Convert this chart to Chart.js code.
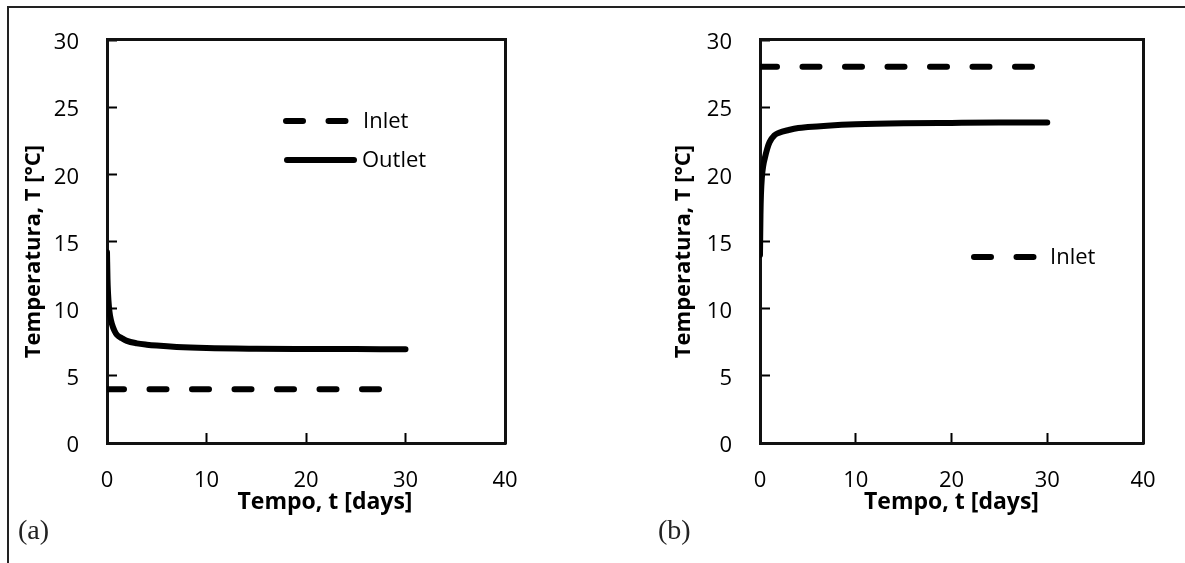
<!DOCTYPE html>
<html>
<head>
<meta charset="utf-8">
<script src="https://cdn.jsdelivr.net/npm/chart.js@4.4.1/dist/chart.umd.min.js"></script>
<style>
  html, body { margin: 0; padding: 0; background: #fff; width: 1185px; height: 563px; overflow: hidden; }
  #frame { position: absolute; left: 7px; top: 6px; right: 0; bottom: 0; border-left: 2px solid #222; border-top: 2px solid #222; }
  .wrap { position: absolute; top: 0; height: 563px; }
  #wa { left: 0; width: 590px; }
  #wb { left: 600px; width: 585px; }
  canvas { display: block; }
  .tag { position: absolute; top: 514px; font-family: "Liberation Serif", "Times New Roman", serif; font-size: 28px; line-height: 32px; color: #222; }
</style>
</head>
<body>
<div id="frame"></div>
<div class="wrap" id="wa"><canvas id="ca" width="590" height="563"></canvas></div>
<div class="wrap" id="wb"><canvas id="cb" width="585" height="563"></canvas></div>
<div class="tag" style="left:18px;">(a)</div>
<div class="tag" style="left:658px;">(b)</div>
<script>
// ---------- data ----------
const xTickValues = [0, 10, 20, 30, 40];
const yTickValues = [0, 5, 10, 15, 20, 25, 30];

const seriesNames = ['Inlet', 'Outlet'];

// Panel (a)
const timeInletA = [0, 28];
const tempInletA = [4, 4];
const timeOutletA = [0, 0.05, 0.1, 0.2, 0.3, 0.5, 0.75, 1, 1.5, 2, 3, 4, 5, 7, 10, 15, 20, 25, 30];
const tempOutletA = [14.2, 12.2, 11.2, 10.1, 9.5, 8.85, 8.35, 8.05, 7.8, 7.6, 7.42, 7.32, 7.25, 7.15, 7.07, 7.02, 7.0, 6.99, 6.98];

// Panel (b)
const timeInletB = [0, 29];
const tempInletB = [28, 28];
const timeOutletB = [0, 0.05, 0.1, 0.2, 0.35, 0.5, 0.75, 1, 1.5, 2, 3, 4, 5, 7, 10, 15, 20, 25, 30];
const tempOutletB = [14.0, 17.0, 18.5, 19.8, 20.7, 21.2, 21.9, 22.4, 22.9, 23.1, 23.3, 23.45, 23.52, 23.62, 23.72, 23.8, 23.83, 23.85, 23.85];

const xTitle = 'Tempo, t [days]';
const yTitle = 'Temperatura, T [°C]';

// ---------- helpers ----------
const pts = (xs, ys) => xs.map((x, i) => ({ x: x, y: ys[i] }));
const SANS = '"Open Sans", "Noto Sans", sans-serif';

const decorPlugin = {
  id: 'decor',
  afterDraw(chart, args, opts) {
    const ctx = chart.ctx;
    const xs = chart.scales.x, ys = chart.scales.y;
    const L = Math.round(xs.getPixelForValue(0)), R = Math.round(xs.getPixelForValue(40));
    const T = Math.round(ys.getPixelForValue(30)), B = Math.round(ys.getPixelForValue(0));
    ctx.save();
    ctx.fillStyle = opts.boxColor || '#000';
    // top and right edges of the plot frame
    ctx.fillRect(L - 1, T - 2, R - L + 3, 3);
    ctx.fillRect(R - 1, T - 2, 3, B - T + 3);
    ctx.restore();
    (opts.items || []).forEach(it => {
      const ds = chart.data.datasets[it.dataset];
      const x0 = L + it.x, y0 = T + it.y;
      ctx.save();
      ctx.strokeStyle = ds.borderColor;
      ctx.lineWidth = ds.borderWidth;
      ctx.lineCap = 'round';
      ctx.setLineDash(ds.borderDash || []);
      ctx.beginPath();
      ctx.moveTo(x0, y0);
      ctx.lineTo(x0 + it.len, y0);
      ctx.stroke();
      ctx.setLineDash([]);
      ctx.fillStyle = '#000';
      ctx.font = '22px ' + SANS;
      ctx.textAlign = 'left';
      ctx.textBaseline = 'middle';
      ctx.fillText(ds.label, x0 + it.len + it.gap, y0 + 1);
      ctx.restore();
    });
  }
};

function patchTitle(s, dx, dy) {
  if ((dx || dy) && !s._shiftPatched) {
    const orig = s.drawTitle;
    s.drawTitle = function () {
      this.ctx.save();
      this.ctx.translate(dx || 0, dy || 0);
      orig.apply(this, arguments);
      this.ctx.restore();
    };
    s._shiftPatched = true;
  }
}

function makeChart(canvasId, inletPts, outletPts, cfg) {
  const datasets = [
    { label: seriesNames[0], data: inletPts, borderColor: '#000', borderWidth: 6, borderDash: [17, 25.5],
      borderCapStyle: 'round', pointRadius: 0, fill: false, tension: 0 },
    { label: seriesNames[1], data: outletPts, borderColor: '#000', borderWidth: 6, borderCapStyle: 'round',
      borderJoinStyle: 'round', pointRadius: 0, fill: false, cubicInterpolationMode: 'monotone' }
  ];
  return new Chart(document.getElementById(canvasId), {
    type: 'line',
    data: { datasets },
    options: {
      responsive: false,
      animation: false,
      devicePixelRatio: 1,
      layout: { autoPadding: false, padding: { left: 0, top: 40, right: cfg.padRight, bottom: 0 } },
      plugins: { legend: { display: false }, tooltip: { enabled: false }, decor: { items: cfg.legend, boxColor: '#111' } },
      scales: {
        x: {
          type: 'linear', position: 'bottom', min: 0, max: 40,
          afterBuildTicks: s => { s.ticks = xTickValues.map(v => ({ value: v })); },
          ticks: { color: '#000', font: { family: SANS, size: 22 }, padding: 35, maxRotation: 0, autoSkip: false },
          grid: { drawOnChartArea: false, drawTicks: true, tickLength: -10, tickWidth: 2, tickColor: '#000' },
          border: { display: true, color: '#111', width: 3 },
          title: { display: true, text: xTitle, color: '#000', font: { family: SANS, size: 23, weight: 'bold' },
                   padding: { top: 0, bottom: 47 } },
          afterFit: s => {
            s.height = 120;
            s.paddingLeft = 0; s.paddingRight = 0;
            patchTitle(s, cfg.xTitleShift, 0);
          }
        },
        y: {
          type: 'linear', position: 'left', min: 0, max: 30,
          afterBuildTicks: s => { s.ticks = yTickValues.map(v => ({ value: v })); },
          ticks: { color: '#000', font: { family: SANS, size: 22 }, padding: 38, labelOffset: 3, autoSkip: false },
          grid: { drawOnChartArea: false, drawTicks: true, tickLength: -10, tickWidth: 2, tickColor: '#000' },
          border: { display: true, color: '#111', width: 3 },
          title: { display: true, text: yTitle, color: '#000', font: { family: SANS, size: 22, weight: 'bold' },
                   padding: { top: cfg.yTitlePad, bottom: 0 } },
          afterFit: s => {
            s.width = cfg.yWidth;
            s.paddingTop = 0; s.paddingBottom = 0;
            patchTitle(s, 0, cfg.yTitleShift);
          }
        }
      }
    },
    plugins: [decorPlugin]
  });
}

makeChart('ca', pts(timeInletA, tempInletA), pts(timeOutletA, tempOutletA), {
  padRight: 85, yWidth: 107, yTitlePad: 21, xTitleShift: 19, yTitleShift: 10,
  legend: [
    { dataset: 0, x: 179, y: 81, len: 63, gap: 14 },
    { dataset: 1, x: 180, y: 120, len: 67, gap: 8 }
  ]
});

makeChart('cb', pts(timeInletB, tempInletB), pts(timeOutletB, tempOutletB), {
  padRight: 42, yWidth: 160, yTitlePad: 71, xTitleShift: 0, yTitleShift: 10,
  legend: [
    { dataset: 0, x: 214, y: 217, len: 63, gap: 13 }
  ]
});
</script>
</body>
</html>
